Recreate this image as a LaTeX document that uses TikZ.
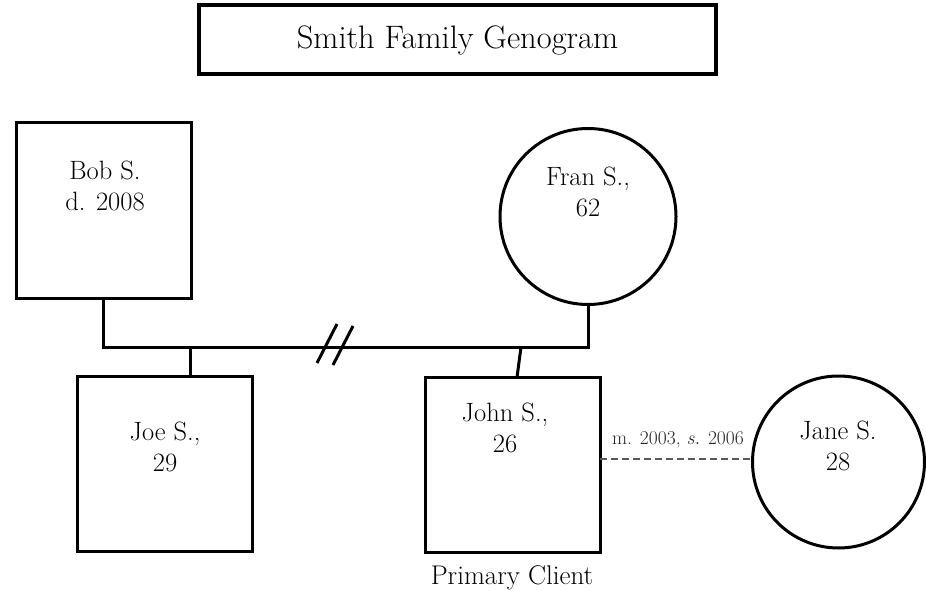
\documentclass[tikz,border=0pt]{standalone}
\usepackage{fontspec}
\begin{document}
\begin{tikzpicture}[x=1pt,y=-1pt,
  person/.style={draw, line width=3pt, inner sep=0pt, outer sep=0pt},
  sq/.style={person, rectangle, minimum width=#1, minimum height=#1},
  ci/.style={person, circle, minimum size=#1},
  lbl/.style={font=\fontsize{26.5}{31}\selectfont, align=center, inner sep=0pt},
  link/.style={line width=3pt},
]
\useasboundingbox (0,0) rectangle (926,591);
% title
\node[draw, line width=4pt, minimum width=517pt, minimum height=69pt, inner sep=0pt,
      font=\fontsize{32.5}{38}\selectfont] (title) at (457.5,40) {Smith Family Genogram};
% people
\node[sq=175pt] (bob) at (103.5,210.5) {};
\node[ci=176pt] (fran) at (588,216.5) {};
\node[sq=175pt] (joe) at (165,464) {};
\node[sq=175pt] (john) at (512.5,465) {};
\node[ci=172pt] (jane) at (838.5,462) {};
% texts
\node[lbl] (bobt) at (105,186) {Bob S.\\d. 2008};
\node[lbl] (frant) at (588,192) {Fran S.,\\62};
\node[lbl] (joet) at (165,447) {Joe S.,\\29};
\node[lbl] (johnt) at (505,428) {John S.,\\26};
\node[lbl] (janet) at (838,446) {Jane S.\\28};
\node[font=\fontsize{27}{31}\selectfont, inner sep=0pt] (pc) at (512,578) {Primary Client};
% marriage line
\coordinate (mL) at (103.5,347);
\coordinate (mR) at (588,347);
\draw[link] (bob.south) -- (mL) -- (mR) -- (fran.south);
% divorce slashes
\coordinate (s1a) at (317,363); \coordinate (s1b) at (337,324);
\coordinate (s2a) at (333,365); \coordinate (s2b) at (353,326);
\draw[link] (s1a) -- (s1b);
\draw[link] (s2a) -- (s2b);
% children
\coordinate (jm) at (190,347);
\coordinate (jt) at (190,376.5);
\draw[link] (jm) -- (jt);
\coordinate (cm) at (521,347);
\coordinate (ct) at (517,377.5);
\draw[link] (cm) -- (ct);
% separation line
\coordinate (dl) at (600,459);
\coordinate (dr) at (752,459);
\draw[gray!70!black, line width=1.5pt, dash pattern=on 7pt off 4pt] (dl) -- (dr);
\node[font=\fontsize{19.5}{23}\selectfont, text=gray!30!black, inner sep=0pt] (sep) at (678,440) {m. 2003, \textit{s.} 2006};
\end{tikzpicture}
\end{document}
